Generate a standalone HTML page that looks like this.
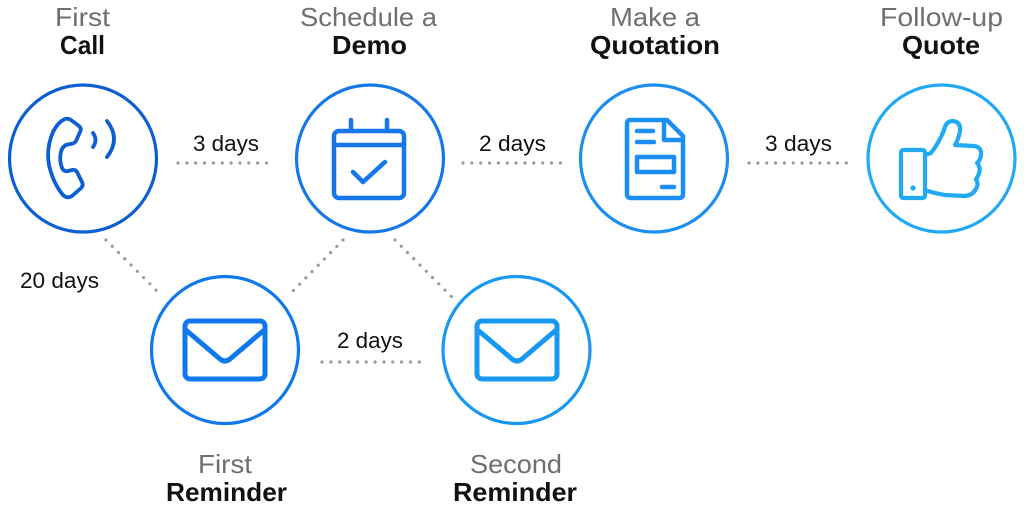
<!DOCTYPE html>
<html>
<head>
<meta charset="utf-8">
<style>
  html, body { margin: 0; padding: 0; background: #ffffff; }
  body { width: 1024px; height: 512px; overflow: hidden; }
  svg { display: block; }
  .g { font-family: "Liberation Sans", sans-serif; font-size: 26px; fill: #6f6f6f; }
  .b { font-family: "Liberation Sans", sans-serif; font-size: 26px; fill: #111111; font-weight: bold; }
  .d { font-family: "Liberation Sans", sans-serif; font-size: 22px; fill: #111111; }
  .dot { stroke: #9a9a9a; stroke-width: 3.2; stroke-linecap: round; stroke-dasharray: 0 8.85; fill: none; }
</style>
</head>
<body>
<svg width="1024" height="512" viewBox="0 0 1024 512" xmlns="http://www.w3.org/2000/svg">
  <!-- Top labels -->
  <text class="g" x="55" y="26" textLength="55" lengthAdjust="spacingAndGlyphs">First</text>
  <text class="b" x="60" y="54" textLength="45" lengthAdjust="spacingAndGlyphs">Call</text>
  <text class="g" x="300" y="26" textLength="137" lengthAdjust="spacingAndGlyphs">Schedule a</text>
  <text class="b" x="332" y="54" textLength="75" lengthAdjust="spacingAndGlyphs">Demo</text>
  <text class="g" x="610" y="26" textLength="90" lengthAdjust="spacingAndGlyphs">Make a</text>
  <text class="b" x="590" y="54" textLength="130" lengthAdjust="spacingAndGlyphs">Quotation</text>
  <text class="g" x="880" y="26" textLength="123" lengthAdjust="spacingAndGlyphs">Follow-up</text>
  <text class="b" x="902" y="54" textLength="78" lengthAdjust="spacingAndGlyphs">Quote</text>

  <!-- Day labels -->
  <text class="d" x="193" y="151" textLength="66" lengthAdjust="spacingAndGlyphs">3 days</text>
  <text class="d" x="479" y="151" textLength="67" lengthAdjust="spacingAndGlyphs">2 days</text>
  <text class="d" x="765" y="151" textLength="67" lengthAdjust="spacingAndGlyphs">3 days</text>
  <text class="d" x="20" y="288" textLength="79" lengthAdjust="spacingAndGlyphs">20 days</text>
  <text class="d" x="337" y="348" textLength="66" lengthAdjust="spacingAndGlyphs">2 days</text>

  <!-- Dotted connectors -->
  <line class="dot" x1="178" y1="163" x2="275" y2="163"/>
  <line class="dot" x1="463" y1="163" x2="561" y2="163"/>
  <line class="dot" x1="749" y1="163" x2="847" y2="163"/>
  <line class="dot" x1="322" y1="362" x2="420" y2="362"/>
  <line class="dot" x1="106" y1="240" x2="162" y2="296"/>
  <line class="dot" x1="343" y1="240" x2="288" y2="296"/>
  <line class="dot" x1="395" y1="240" x2="452" y2="297"/>

  <!-- Circle 1: First Call -->
  <g fill="none" stroke="#0b5fd2" stroke-width="3.2">
    <circle cx="83" cy="158.5" r="73.5"/>
  </g>
  <g fill="none" stroke="#0b5fd2" stroke-width="3.8" stroke-linejoin="round" stroke-linecap="round">
    <path d="M65 119 Q68 118 71 120 L79 126 Q82 129 80 132 L76 141 Q74 144 70 144 L66 145 Q62 147 61 152 Q59 160 62 168 Q64 172 68 171 L72 170 Q75 169 77 172 L82 182 Q84 186 80 189 L72 196 Q67 199 63 195 Q53 183 49 165 Q46 148 53 132 Q58 122 65 119 Z"/>
    <path d="M93 133 Q98 140 93 147"/>
    <path d="M107 121 Q121 139 107 157"/>
  </g>

  <!-- Circle 2: Schedule a Demo -->
  <g fill="none" stroke="#1677ea" stroke-width="3.2">
    <circle cx="370" cy="158.5" r="73.5"/>
  </g>
  <g fill="none" stroke="#1677ea" stroke-width="4.5" stroke-linejoin="round" stroke-linecap="round">
    <rect x="334" y="131" width="70" height="67" rx="5"/>
    <line x1="334" y1="145" x2="404" y2="145"/>
    <line x1="351" y1="120" x2="351" y2="130"/>
    <line x1="387" y1="120" x2="387" y2="130"/>
    <polyline points="353,172 363,182 385,162"/>
  </g>

  <!-- Circle 3: Make a Quotation -->
  <g fill="none" stroke="#1a8ef2" stroke-width="3.2">
    <circle cx="654" cy="158.5" r="73.5"/>
  </g>
  <g fill="none" stroke="#1a8ef2" stroke-width="4.5" stroke-linejoin="round" stroke-linecap="round">
    <path d="M630 120 L667 120 L683 136 L683 194 Q683 198 679 198 L631 198 Q627 198 627 194 L627 124 Q627 120 630 120 Z"/>
    <path d="M664 121 L664 140 L682 140"/>
    <line x1="637" y1="131" x2="653" y2="131"/>
    <line x1="637" y1="142" x2="654" y2="142"/>
    <rect x="637" y="157" width="37" height="15"/>
    <line x1="662" y1="187" x2="674" y2="187"/>
  </g>

  <!-- Circle 4: Follow-up Quote -->
  <g fill="none" stroke="#21aaf3" stroke-width="3.2">
    <circle cx="941.5" cy="158.5" r="73.5"/>
  </g>
  <g fill="none" stroke="#21aaf3" stroke-width="4.2" stroke-linejoin="round" stroke-linecap="round">
    <rect x="901" y="150" width="24" height="48" rx="2.5"/>
    <path d="M925 155 L931 153 Q939 143 944 130 Q946 121 953 121 Q961 122 960 131 Q959 138 955 145 L974 146 Q982 147 981 155 Q980 161 977 163 Q981 167 979 173 Q978 177 976 179 Q979 184 976 189 Q973 195 965 196 L945 195 Q933 193 925 190"/>
  </g>
  <circle cx="913" cy="188" r="2.6" fill="#21aaf3"/>

  <!-- First Reminder -->
  <g fill="none" stroke="#0f78ec" stroke-width="3.2">
    <circle cx="225" cy="350" r="73.5"/>
  </g>
  <g fill="none" stroke="#0f78ec" stroke-width="5" stroke-linejoin="round" stroke-linecap="round">
    <rect x="185" y="321" width="80" height="58" rx="5"/>
    <path d="M187 331 L220 359 Q225 363 230 359 L263 331"/>
  </g>

  <!-- Second Reminder -->
  <g fill="none" stroke="#1898f1" stroke-width="3.2">
    <circle cx="516.5" cy="350" r="73.5"/>
  </g>
  <g fill="none" stroke="#1898f1" stroke-width="5" stroke-linejoin="round" stroke-linecap="round">
    <rect x="477" y="321" width="80" height="58" rx="5"/>
    <path d="M479 331 L512 359 Q517 363 522 359 L555 331"/>
  </g>

  <!-- Bottom labels -->
  <text class="g" x="198" y="473" textLength="54" lengthAdjust="spacingAndGlyphs">First</text>
  <text class="b" x="166" y="501" textLength="121" lengthAdjust="spacingAndGlyphs">Reminder</text>
  <text class="g" x="470" y="473" textLength="92" lengthAdjust="spacingAndGlyphs">Second</text>
  <text class="b" x="453" y="501" textLength="124" lengthAdjust="spacingAndGlyphs">Reminder</text>
</svg>
</body>
</html>
